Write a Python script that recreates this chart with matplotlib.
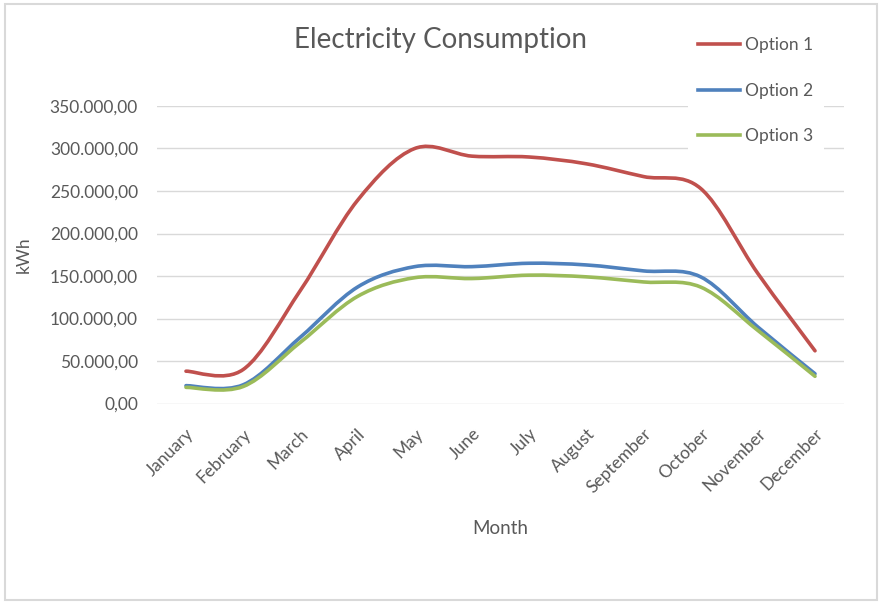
import matplotlib.pyplot as plt
from matplotlib.path import Path
from matplotlib.patches import PathPatch, Rectangle
from matplotlib.lines import Line2D
from matplotlib.ticker import FuncFormatter, MultipleLocator

# Data (kWh per month)
months = ["January", "February", "March", "April", "May", "June", "July",
          "August", "September", "October", "November", "December"]
option_1 = [38000, 40000, 133000, 239000, 300000, 291000, 290000,
            282000, 267000, 253000, 153000, 62000]
option_2 = [21000, 22000, 78000, 137000, 161000, 161000, 165000,
            163000, 156000, 149000, 90000, 35000]
option_3 = [19000, 20000, 72000, 126000, 148000, 147000, 151000,
            149000, 143000, 137000, 86000, 32000]
series_names = ["Option 1", "Option 2", "Option 3"]
colors = ["#C0504D", "#4F81BD", "#9BBB59"]

text_col = "#595959"
grid_col = "#d9d9d9"
plt.rcParams['font.family'] = ['Lato', 'DejaVu Sans']


def smooth_path(xs, ys):
    # Excel-like smoothed line: cubic Bezier with Catmull-Rom tangents
    pts = list(zip(xs, ys))
    n = len(pts)
    verts = [pts[0]]
    codes = [Path.MOVETO]
    for i in range(n - 1):
        p0 = pts[max(i - 1, 0)]
        p1 = pts[i]
        p2 = pts[i + 1]
        p3 = pts[min(i + 2, n - 1)]
        c1 = (p1[0] + (p2[0] - p0[0]) / 6, p1[1] + (p2[1] - p0[1]) / 6)
        c2 = (p2[0] - (p3[0] - p1[0]) / 6, p2[1] - (p3[1] - p1[1]) / 6)
        verts += [c1, c2, p2]
        codes += [Path.CURVE4] * 3
    return Path(verts, codes)


fig = plt.figure(figsize=(8.83, 6.04), dpi=100)
fig.patches.append(Rectangle((5 / 883, 4 / 604), 872 / 883, 596 / 604,
                             transform=fig.transFigure, fill=False,
                             edgecolor=grid_col, linewidth=1.5))

ax = fig.add_axes([157.4 / 883, (604 - 403.5) / 604,
                   (843.6 - 157.4) / 883, (403.5 - 106) / 604])

x = list(range(len(months)))
for vals, name, c in zip([option_1, option_2, option_3], series_names, colors):
    ax.add_patch(PathPatch(smooth_path(x, vals), fill=False, edgecolor=c,
                           linewidth=2.6, capstyle='round', zorder=3))

ax.set_xlim(-0.5, len(months) - 0.5)
ax.set_ylim(0, 350000)
ax.yaxis.set_major_locator(MultipleLocator(50000))


def fmt(v, pos):
    s = f"{v:,.2f}"
    return s.replace(",", "X").replace(".", ",").replace("X", ".")


ax.yaxis.set_major_formatter(FuncFormatter(fmt))
ax.grid(axis='y', color=grid_col, linewidth=1)
ax.set_axisbelow(True)
for sp in ax.spines.values():
    sp.set_visible(False)
ax.tick_params(axis='both', length=0, colors=text_col, labelsize=12.5)
ax.tick_params(axis='y', pad=14)

ax.set_xticks(x)
ax.set_xticklabels(months, rotation=45, ha='right', rotation_mode='anchor')
ax.tick_params(axis='x', pad=16)

ax.set_xlabel("Month", fontsize=13.5, color=text_col, labelpad=17)
ax.set_ylabel("kWh", fontsize=12.5, color=text_col, labelpad=13)
fig.text(441 / 883, 1 - 40 / 604, "Electricity Consumption", fontsize=20,
         color=text_col, ha='center', va='center')

handles = [Line2D([], [], color=c, linewidth=2.6) for c in colors]
leg = fig.legend(handles, series_names, loc='upper left',
                 bbox_to_anchor=(679 / 883, 1 - 18 / 604), fontsize=12.5,
                 frameon=True, facecolor='white', edgecolor='none',
                 framealpha=1, fancybox=False, handlelength=2.4,
                 handletextpad=0.3, labelspacing=1.7, borderpad=0.6)
for t in leg.get_texts():
    t.set_color(text_col)

fig.savefig("out.png", dpi=100)
